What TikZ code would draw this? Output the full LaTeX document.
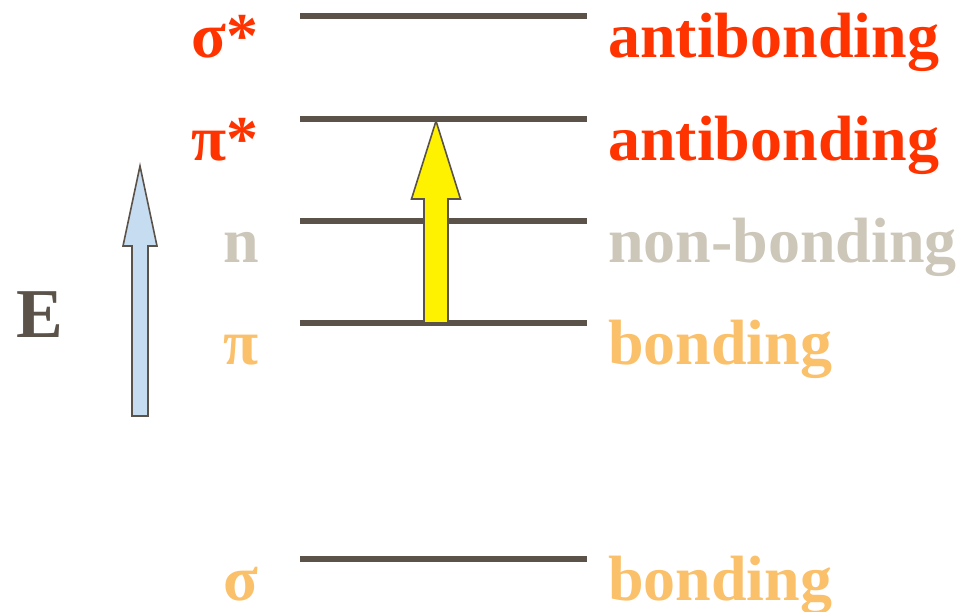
\documentclass[tikz,border=0pt]{standalone}
\usepackage{fontspec}
\setmainfont{Liberation Serif}
\usepackage{xcolor}
\usepackage{tikz}
\usetikzlibrary{positioning,calc}
\definecolor{levelgray}{HTML}{5B5249}
\definecolor{antired}{HTML}{FF3300}
\definecolor{nongray}{HTML}{CDC7BA}
\definecolor{bondorange}{HTML}{FAC06A}
\definecolor{energyblue}{HTML}{C6DCF0}

\begin{document}
\begin{tikzpicture}[x=1pt, y=1pt,
  level/.style={draw=levelgray, line width=6pt},
  sym/.style={anchor=base east, inner sep=0pt,
    font=\fontsize{64}{70}\selectfont\bfseries},
  kind/.style={anchor=base west, inner sep=0pt,
    font=\fontsize{64}{70}\selectfont\bfseries},
  fatarr/.style={draw=levelgray, line width=1.6pt, line join=miter}
]
\useasboundingbox (0,0) rectangle (961,612);

%─── LEVELS ──────────────────────────────────────────────────────────────────
\coordinate (SSa) at (300,596);  \coordinate (SSb) at (587,596);
\coordinate (PSa) at (300,493);  \coordinate (PSb) at (587,493);
\coordinate (Na)  at (300,391);  \coordinate (Nb)  at (587,391);
\coordinate (Pa)  at (300,289);  \coordinate (Pb)  at (587,289);
\coordinate (Sa)  at (300,53);   \coordinate (Sb)  at (587,53);

\draw[level] (SSa) -- (SSb);
\draw[level] (PSa) -- (PSb);
\draw[level] (Na)  -- (Nb);
\draw[level] (Pa)  -- (Pb);
\draw[level] (Sa)  -- (Sb);

%─── SYMBOLS ─────────────────────────────────────────────────────────────────
\node[sym, text=antired]    (SSsym) at (259,554) {σ*};
\node[sym, text=antired]    (PSsym) at (259,451) {π*};
\node[sym, text=nongray]    (Nsym)  at (259,349) {n};
\node[sym, text=bondorange] (Psym)  at (259,247) {π};
\node[sym, text=bondorange] (Ssym)  at (259,11)  {σ};

%─── KINDS ───────────────────────────────────────────────────────────────────
\node[kind, text=antired]    (SSkind) at (608,554) {antibonding};
\node[kind, text=antired]    (PSkind) at (608,451) {antibonding};
\node[kind, text=nongray]    (Nkind)  at (608,349) {non-bonding};
\node[kind, text=bondorange] (Pkind)  at (608,247) {bonding};
\node[kind, text=bondorange] (Skind)  at (608,11)  {bonding};

%─── ENERGY AXIS ─────────────────────────────────────────────────────────────
\node[kind, text=levelgray, font=\fontsize{70}{76}\selectfont\bfseries]
  (E) at (16,274) {E};

\coordinate (Etail) at (140,196);
\coordinate (Etip)  at (140,446);
\draw[fatarr, fill=energyblue]
  ([xshift=-8pt]Etail) -- ([xshift=-8pt,yshift=-80pt]Etip)
  -- ([xshift=-17pt,yshift=-80pt]Etip) -- (Etip)
  -- ([xshift=17pt,yshift=-80pt]Etip) -- ([xshift=8pt,yshift=-80pt]Etip)
  -- ([xshift=8pt]Etail) -- cycle;

%─── TRANSITION π → π* ───────────────────────────────────────────────────────
\coordinate (Ttail) at (436,289);
\coordinate (Ttip)  at (436,491);
\draw[fatarr, fill=yellow]
  ([xshift=-12pt]Ttail) -- ([xshift=-12pt,yshift=-78pt]Ttip)
  -- ([xshift=-24.5pt,yshift=-78pt]Ttip) -- (Ttip)
  -- ([xshift=24.5pt,yshift=-78pt]Ttip) -- ([xshift=12pt,yshift=-78pt]Ttip)
  -- ([xshift=12pt]Ttail) -- cycle;

\end{tikzpicture}
\end{document}
